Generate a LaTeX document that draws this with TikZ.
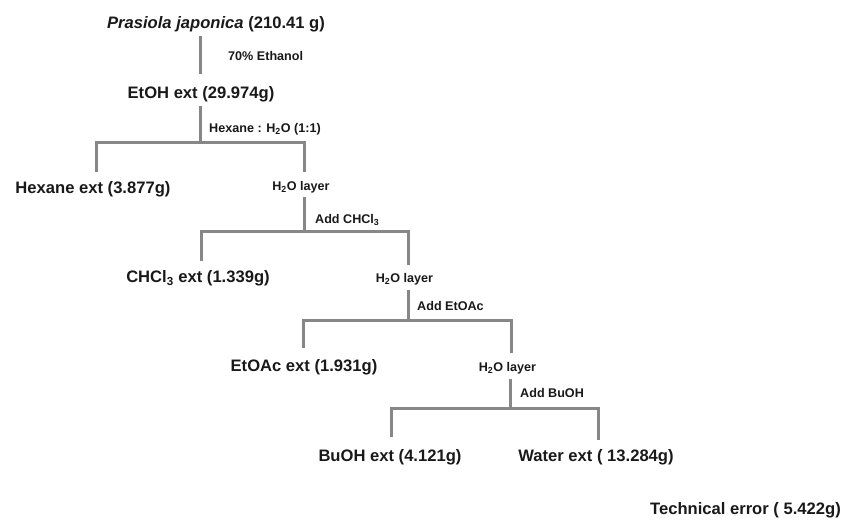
\documentclass[tikz,border=0pt]{standalone}
\usepackage{fontspec}
\setmainfont{Liberation Sans}
\definecolor{lngray}{RGB}{135,135,135}
\definecolor{txt}{RGB}{25,25,25}
\begin{document}
\begin{tikzpicture}[x=1pt,y=-1pt,
  big/.style={anchor=base,inner sep=0pt,text height=12.4pt,text depth=3.6pt,font=\fontsize{16.6}{19}\selectfont\bfseries,text=txt},
  small/.style={anchor=base,inner sep=0pt,text height=9.2pt,text depth=2.7pt,font=\fontsize{12.6}{15}\selectfont\bfseries,text=txt},
  lbl/.style={anchor=base west,inner sep=0pt,font=\fontsize{12.6}{15}\selectfont\bfseries,text=txt},
  ln/.style={draw=lngray,line width=3pt}]
\useasboundingbox (0,0) rectangle (843,521);
% nodes
\node[big] (top) at (216,29) {\textit{Prasiola japonica} (210.41 g)};
\node[big] (etoh) at (201,99) {EtOH ext (29.974g)};
\node[big] (hex) at (93,194) {Hexane ext (3.877g)};
\node[small] (lay1) at (301,190.5) {H\textsubscript{2}O layer};
\node[big] (chcl) at (198,283) {CHCl\textsubscript{3} ext (1.339g)};
\node[small] (lay2) at (404.5,282.5) {H\textsubscript{2}O layer};
\node[big] (etoac) at (304,371) {EtOAc ext (1.931g)};
\node[small] (lay3) at (507.5,371.5) {H\textsubscript{2}O layer};
\node[big] (buoh) at (390,461) {BuOH ext (4.121g)};
\node[big] (water) at (596,461) {Water ext ( 13.284g)};
\node[big,anchor=base east] (tech) at (841,514) {Technical error ( 5.422g)};
% labels
\node[lbl] (l1) at (228,60.5) {70\% Ethanol};
\node[lbl] (l2) at (209,132.5) {Hexane : H\textsubscript{2}O (1:1)};
\node[lbl] (l3) at (315,223.5) {Add CHCl\textsubscript{3}};
\node[lbl] (l4) at (417,310.5) {Add EtOAc};
\node[lbl] (l5) at (520,397.5) {Add BuOH};
% junctions
\coordinate (j0) at (200,0);
\coordinate (j1) at (200,143);
\coordinate (j2) at (304,232);
\coordinate (j3) at (408,320);
\coordinate (j4) at (510,408);
\coordinate (a1) at (96,172);  \coordinate (b1) at (304,172);
\coordinate (a2) at (201,261); \coordinate (b2) at (408,265);
\coordinate (a3) at (303,348); \coordinate (b3) at (511,353);
\coordinate (a4) at (391,437); \coordinate (b4) at (598,440);
% connectors
\draw[ln,shorten <=3.4pt,shorten >=12.6pt] (top.south -| j0) -- (etoh.north -| j0);
\draw[ln,shorten <=3.4pt] (etoh.south -| j1) -- (j1);
\draw[ln] (a1) |- (j1) -| (b1);
\draw[ln,shorten <=3.8pt] (lay1.south -| j2) -- (j2);
\draw[ln] (a2) |- (j2) -| (b2);
\draw[ln,shorten <=4.8pt] (lay2.south -| j3) -- (j3);
\draw[ln] (a3) |- (j3) -| (b3);
\draw[ln,shorten <=4.8pt] (lay3.south -| j4) -- (j4);
\draw[ln] (a4) |- (j4) -| (b4);
\end{tikzpicture}
\end{document}
